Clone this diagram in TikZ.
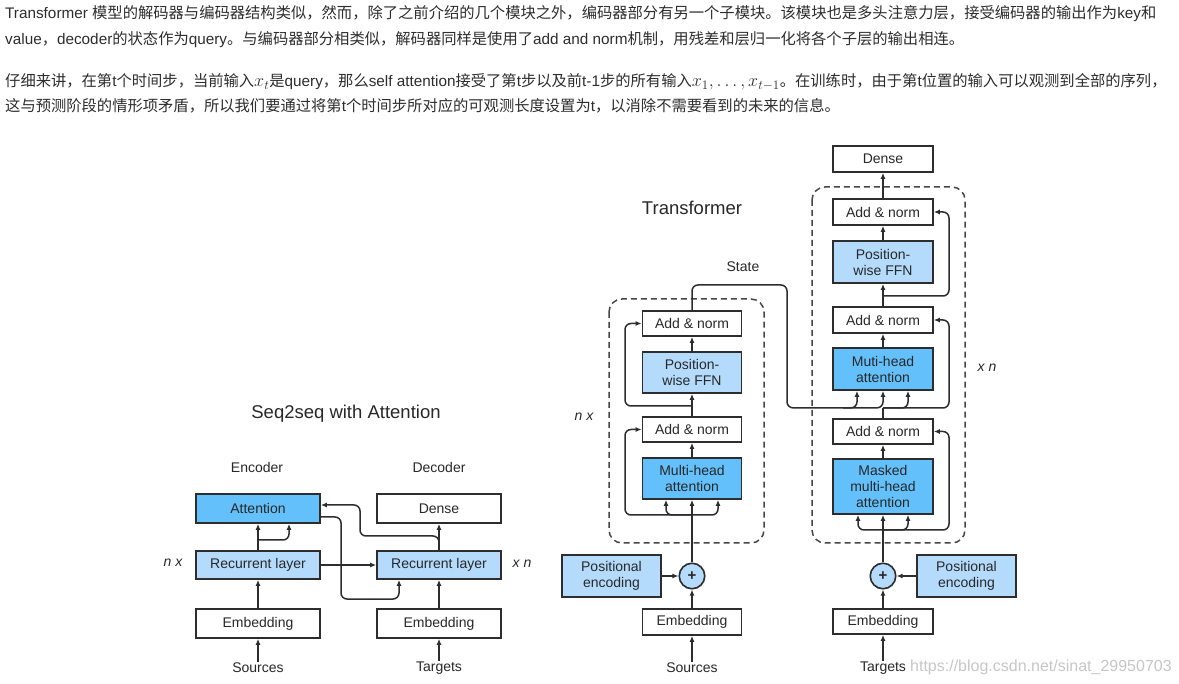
\RequirePackage{fix-cm}
\documentclass[tikz,border=0pt]{standalone}
\usepackage{fontspec}
\setmainfont{Liberation Sans}
\newfontfamily\cjk{Noto Sans CJK SC}
\DeclareMathSizes{15.3}{18}{13}{10}
\usetikzlibrary{arrows.meta,calc}
\definecolor{bblue}{RGB}{99,192,250}
\definecolor{lblue}{RGB}{180,219,252}
\definecolor{linec}{RGB}{45,45,45}
\definecolor{txtc}{RGB}{40,40,40}
\definecolor{dashc}{RGB}{70,70,70}
\definecolor{parac}{RGB}{45,45,45}
\tikzset{
 box/.style={draw=linec, line width=1.7pt, inner sep=0pt, align=center, font=\fontsize{14}{16}\selectfont, text=txtc},
 wbox/.style={box, fill=white},
 lbox/.style={box, fill=lblue},
 bbox/.style={box, fill=bblue},
 arr/.style={draw=linec, line width=1.5pt, -{Latex[length=6pt,width=5pt]}},
 conn/.style={draw=linec, line width=1.5pt},
 rc/.style={rounded corners=6pt},
 lbl/.style={font=\fontsize{14}{16}\selectfont, text=txtc, inner sep=1pt},
 ttl/.style={font=\fontsize{18.5}{22}\selectfont, text=txtc, inner sep=0pt},
 dbox/.style={draw=dashc, line width=1.5pt, dash pattern=on 6pt off 4pt, rounded corners=13pt},
 plus/.style={circle, draw=linec, line width=1.6pt, fill=lblue, minimum size=25.5pt, inner sep=0pt, font=\fontsize{15}{16}\selectfont\bfseries, text=txtc},
 para/.style={anchor=base west, inner sep=0pt, font=\fontsize{15.3}{18}\selectfont, text=parac},
 wm/.style={anchor=west, inner sep=0pt, font=\fontsize{16}{18}\selectfont, text=black!22}
}
\begin{document}
\begin{tikzpicture}[x=1pt,y=-1pt]
\useasboundingbox[fill=white] (0,0) rectangle (1179,684);

% ---------- paragraphs ----------
\node[para] (p1) at (5,19) {Transformer {\cjk 模型的解码器与编码器结构类似，然而，除了之前介绍的几个模块之外，编码器部分有另一个子模块。该模块也是多头注意力层，接受编码器的输出作为}key{\cjk 和}};
\node[para] (p2) at (5,45) {value{\cjk ，}decoder{\cjk 的状态作为}query{\cjk 。与编码器部分相类似，解码器同样是使用了}add and norm{\cjk 机制，用残差和层归一化将各个子层的输出相连。}};
\node[para] (p3) at (5,87) {{\cjk 仔细来讲，在第}t{\cjk 个时间步，当前输入}$x_t${\cjk 是}query{\cjk ，那么}self attention{\cjk 接受了第}t{\cjk 步以及前}t-1{\cjk 步的所有输入}$x_1,\ldots,x_{t-1}${\cjk 。在训练时，由于第}t{\cjk 位置的输入可以观测到全部的序列，}};
\node[para] (p4) at (5,112) {{\cjk 这与预测阶段的情形项矛盾，所以我们要通过将第}t{\cjk 个时间步所对应的可观测长度设置为}t{\cjk ，以消除不需要看到的未来的信息。}};

% ---------- Seq2seq with Attention ----------
\node[ttl] (t1) at (346,414) {Seq2seq with Attention};
\node[lbl] (encl) at (257,467) {Encoder};
\node[lbl] (decl) at (439,467) {Decoder};
\node[bbox, minimum width=124pt, minimum height=29pt] (att) at (258,508.5) {Attention};
\node[wbox, minimum width=124pt, minimum height=29pt] (den1) at (439,508.5) {Dense};
\node[lbox, minimum width=124pt, minimum height=28pt] (rec1) at (258,565) {Recurrent layer};
\node[lbox, minimum width=124pt, minimum height=28pt] (rec2) at (439,565) {Recurrent layer};
\node[wbox, minimum width=124pt, minimum height=29pt] (emb1) at (258,623.5) {Embedding};
\node[wbox, minimum width=124pt, minimum height=29pt] (emb2) at (439,623.5) {Embedding};
\node[lbl] (src1) at (258,668) {Sources};
\node[lbl] (tgt1) at (439,668) {Targets};
\node[lbl, font=\fontsize{14}{16}\selectfont\itshape] (nx1) at (173,563) {n x};
\node[lbl, font=\fontsize{14}{16}\selectfont\itshape] (xn1) at (522,564) {x n};

\draw[arr] (src1) -- (emb1);
\draw[arr] (tgt1) -- (emb2);
\draw[arr] (emb1) -- (rec1);
\draw[arr] (emb2) -- (rec2);
\draw[arr] (rec1) -- (att);
\coordinate (sb1) at (258,540);
\draw[arr, rc] (sb1) -| ($(att.south)+(31,0)$);
\draw[arr] (rec1) -- (rec2);
\draw[arr, rc] ($(att.east)+(0,8.5)$) -| (341,599) -| ($(rec2.south)+(-40,0)$);
\draw[arr] (rec2) -- (den1);
\draw[arr, rc] (rec2.north) |- (360,536) |- ($(att.east)+(0,-3.5)$);

% ---------- Transformer ----------
\node[ttl] (t2) at (692,208) {Transformer};
\draw[dbox] (609,299) rectangle (764,543);
\draw[dbox] (812,187) rectangle (965,543);

% encoder
\node[wbox, minimum width=99pt, minimum height=25pt] (an1) at (692,323.5) {Add \& norm};
\node[lbox, minimum width=99pt, minimum height=41pt] (ffn1) at (692,372.5) {Position-\\wise FFN};
\node[wbox, minimum width=99pt, minimum height=25pt] (an2) at (692,429.5) {Add \& norm};
\node[bbox, minimum width=99pt, minimum height=41pt] (mha1) at (692,478.5) {Multi-head\\attention};
\node[plus] (c1) at (692,576) {+};
\node[lbox, minimum width=99pt, minimum height=42pt] (pe1) at (611.5,576) {Positional\\encoding};
\node[wbox, minimum width=99pt, minimum height=26pt] (emb3) at (692,622) {Embedding};
\node[lbl] (src2) at (692,668) {Sources};
\node[lbl, font=\fontsize{14}{16}\selectfont\itshape] (nx2) at (584,417) {n x};
\node[lbl] (state) at (743,267) {State};

\draw[arr] (src2) -- (emb3);
\draw[arr] (emb3) -- (c1);
\draw[arr] (pe1) -- (c1);
\coordinate (e1) at (692,515);
\draw[conn] (c1.north) -- (e1);
\draw[arr] (e1) -- (mha1.south);
\draw[arr, rc] (e1) -| ($(mha1.south)+(-26,0)$);
\draw[arr, rc] (e1) -| ($(mha1.south)+(26,0)$);
\draw[arr, rc] (e1) -| (625,480) |- (an2.west);
\draw[arr] (mha1) -- (an2);
\draw[arr] (an2) -- (ffn1);
\draw[arr] (ffn1) -- (an1);
\coordinate (e2) at (692,406);
\draw[arr, rc] (e2) -| (625,370) |- (an1.west);

% decoder
\node[wbox, minimum width=100pt, minimum height=26pt] (den2) at (883,159) {Dense};
\node[wbox, minimum width=100pt, minimum height=26pt] (an3) at (883,212) {Add \& norm};
\node[lbox, minimum width=100pt, minimum height=42pt] (ffn2) at (883,262) {Position-\\wise FFN};
\node[wbox, minimum width=100pt, minimum height=26pt] (an4) at (883,320) {Add \& norm};
\node[bbox, minimum width=100pt, minimum height=42pt] (mha2) at (883,369) {Muti-head\\attention};
\node[wbox, minimum width=100pt, minimum height=25pt] (an5) at (883,431.5) {Add \& norm};
\node[bbox, minimum width=100pt, minimum height=55pt] (mmha) at (883,486.5) {Masked\\multi-head\\attention};
\node[plus] (c2) at (883,576) {+};
\node[lbox, minimum width=99pt, minimum height=42pt] (pe2) at (966.5,576) {Positional\\encoding};
\node[wbox, minimum width=100pt, minimum height=25pt] (emb4) at (883,621.5) {Embedding};
\node[lbl] (tgt2) at (883,668) {Targets};
\node[lbl, font=\fontsize{14}{16}\selectfont\itshape] (xn2) at (987,368) {x n};

\draw[arr] (tgt2) -- (emb4);
\draw[arr] (emb4) -- (c2);
\draw[arr] (pe2) -- (c2);
\coordinate (d1) at (883,530);
\draw[conn] (c2.north) -- (d1);
\draw[arr] (d1) -- (mmha.south);
\draw[arr, rc] (d1) -| ($(mmha.south)+(-25,0)$);
\draw[arr, rc] (d1) -| ($(mmha.south)+(25,0)$);
\draw[arr, rc] (d1) -| (949,480) |- (an5.east);
\draw[arr] (mmha) -- (an5);
\coordinate (d2) at (883,408);
\draw[conn] (an5.north) -- (d2);
\draw[arr, rc] (d2) -| ($(mha2.south)+(25,0)$);
\draw[arr, rc] (d2) -| (949,370) |- (an4.east);
\draw[arr] (mha2) -- (an4);
\draw[arr] (an4) -- (ffn2);
\draw[arr] (ffn2) -- (an3);
\coordinate (d3) at (883,296);
\draw[arr, rc] (d3) -| (949,250) |- (an3.east);
\draw[arr] (an3) -- (den2);

% state connection
\draw[arr, rc] (an1.north) |- (787,285) |- ($(mha2.south)+(-26,17)$) -- ($(mha2.south)+(-26,0)$);
\draw[arr, rc] ($(mha2.south)+(-40,17)$) -| (mha2.south);

\node[wm] (wmk) at (910,667) {https://blog.csdn.net/sinat\_29950703};
\end{tikzpicture}
\end{document}
